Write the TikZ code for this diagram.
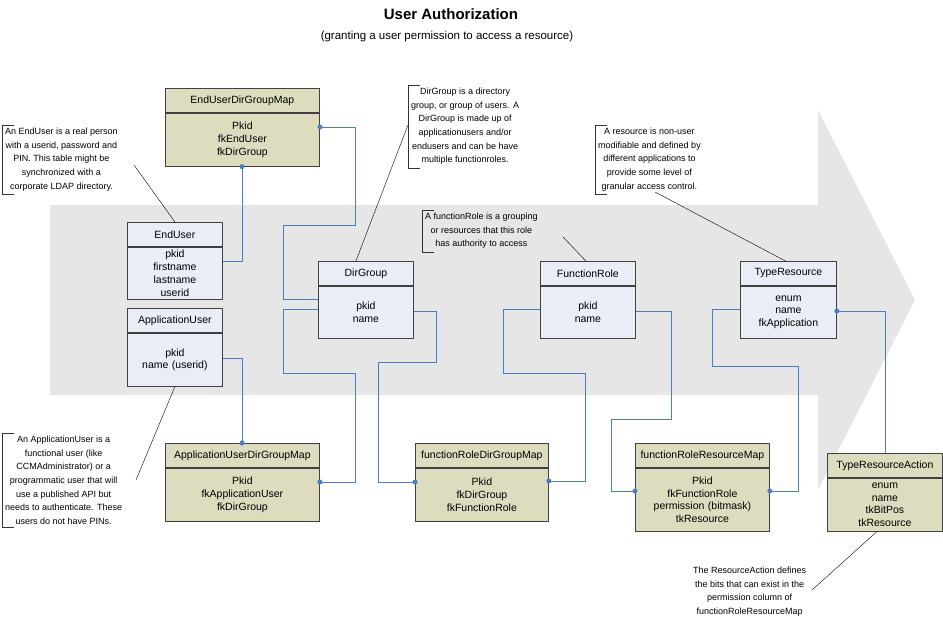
\documentclass[tikz,border=0pt]{standalone}
\usepackage{fontspec}
\setmainfont{Liberation Sans}
\usetikzlibrary{positioning}
\definecolor{band}{HTML}{E6E6E6}
\definecolor{tblblue}{HTML}{E8EDF6}
\definecolor{tbltan}{HTML}{DDDCBF}
\definecolor{link}{HTML}{4A7CC8}
\begin{document}
\begin{tikzpicture}[x=1pt, y=-1pt, font=\fontsize{9}{13.6}\selectfont]
        \tikzstyle{head}=[draw=black!75, thick, anchor=north west, minimum height=24pt, inner sep=1pt, align=center, font=\fontsize{10.5}{12.8}\selectfont]
        \tikzstyle{body}=[draw=black!75, thick, anchor=north, inner sep=1pt, align=center, font=\fontsize{10.5}{12.8}\selectfont]
        \tikzstyle{note}=[inner sep=3pt, align=center]
        \tikzstyle{fk}=[draw=link, line width=1pt]
        \tikzstyle{dot}=[circle, fill=link, inner sep=0pt, minimum size=5pt]
        \useasboundingbox (0,0) rectangle (943,622);

        % grosser grauer Pfeil im Hintergrund
        \fill[band] (50,205) -- (818,205) -- (818,110) -- (915,300) -- (818,490) -- (818,395) -- (50,395) -- cycle;

        % Titel
        \node (title) at (451,14) {\fontsize{15}{18}\selectfont\bfseries User Authorization};
        \node (subtitle) at (447,37) {\fontsize{11.5}{13}\selectfont(granting a user permission to access a resource)};

        % Tabellen: Kopf + Rumpf
        \node[head, fill=tbltan, text width=152pt] (eudgm) at (165,88) {EndUserDirGroupMap};
        \node[body, fill=tbltan, text width=152pt, minimum height=53pt] (eudgmb) at (eudgm.south) {Pkid\\fkEndUser\\fkDirGroup};

        \node[head, fill=tblblue, text width=93pt] (enduser) at (127,222) {EndUser};
        \node[body, fill=tblblue, text width=93pt, minimum height=52pt] (enduserb) at (enduser.south) {pkid\\firstname\\lastname\\userid};

        \node[head, fill=tblblue, text width=93pt] (appuser) at (127,308) {ApplicationUser};
        \node[body, fill=tblblue, text width=93pt, minimum height=53pt] (appuserb) at (appuser.south) {pkid\\name (userid)};

        \node[head, fill=tbltan, text width=152pt] (audgm) at (165,443) {ApplicationUserDirGroupMap};
        \node[body, fill=tbltan, text width=152pt, minimum height=53pt] (audgmb) at (audgm.south) {Pkid\\fkApplicationUser\\fkDirGroup};

        \node[head, fill=tblblue, text width=93pt] (dirgroup) at (318,261) {DirGroup};
        \node[body, fill=tblblue, text width=93pt, minimum height=52pt] (dirgroupb) at (dirgroup.south) {pkid\\name};

        \node[head, fill=tbltan, text width=131pt] (frdgm) at (415,443) {functionRoleDirGroupMap};
        \node[body, fill=tbltan, text width=131pt, minimum height=53pt] (frdgmb) at (frdgm.south) {Pkid\\fkDirGroup\\fkFunctionRole};

        \node[head, fill=tblblue, text width=93pt] (funcrole) at (540,261) {FunctionRole};
        \node[body, fill=tblblue, text width=93pt, minimum height=52pt] (funcroleb) at (funcrole.south) {pkid\\name};

        \node[head, fill=tbltan, text width=132pt] (frrm) at (635,443) {functionRoleResourceMap};
        \node[body, fill=tbltan, text width=132pt, minimum height=63pt] (frrmb) at (frrm.south) {Pkid\\fkFunctionRole\\permission (bitmask)\\tkResource};

        \node[head, fill=tblblue, text width=94pt] (typeres) at (740,261) {TypeResource};
        \node[body, fill=tblblue, text width=94pt, minimum height=52pt] (typeresb) at (typeres.south) {enum\\name\\fkApplication};

        \node[head, fill=tbltan, text width=113pt] (tra) at (827,453) {TypeResourceAction};
        \node[body, fill=tbltan, text width=113pt, minimum height=53pt] (trab) at (tra.south) {enum\\name\\tkBitPos\\tkResource};

        % Notizen
        \node[note, anchor=north west] (neu) at (2,125) {An EndUser is a real person\\with a userid, password and\\PIN. This table might be\\synchronized with a\\corporate LDAP directory.};
        \node[note, anchor=north west] (nau) at (2,433) {An ApplicationUser is a\\functional user (like\\CCMAdministrator) or a\\programmatic user that will\\use a published API but\\needs to authenticate. These\\users do not have PINs.};
        \node[note, anchor=north west] (ndg) at (408,85) {DirGroup is a directory\\group, or group of users. A\\DirGroup is made up of\\applicationusers and/or\\endusers and can be have\\multiple functionroles.};
        \node[note, anchor=north west] (nfr) at (422,210) {A functionRole is a grouping\\or resources that this role\\has authority to access};
        \node[note, anchor=north west] (nres) at (595,125) {A resource is non-user\\modifiable and defined by\\different applications to\\provide some level of\\granular access control.};
        \node[note, anchor=north west] (ntra) at (690,564) {The ResourceAction defines\\the bits that can exist in the\\permission column of\\functionRoleResourceMap};

        % Klammern der Notizen
        \foreach \n in {neu, nau, ndg, nfr, nres} {
            \draw[black!80] ([xshift=12pt]\n.north west) -| (\n.south west) -- ++(12pt,0);
        }

        % Notiz-Linien
        \coordinate (c1) at (134,165);
        \coordinate (c2) at (136,480);
        \coordinate (c3) at (408,125);
        \coordinate (c4) at (563,237);
        \coordinate (c5) at (655,192);
        \coordinate (c6) at (812,590);
        \draw (c1) -- (enduser.north);
        \draw (c2) -- (appuserb.south);
        \draw (c3) -- ([xshift=-10pt]dirgroup.north);
        \draw (c4) -- ([xshift=-2pt]funcrole.north);
        \draw (c5) -- ([xshift=-3pt]typeres.north);
        \draw (c6) -- ([xshift=-8pt]trab.south);

        % Fremdschluessel-Verbindungen
        \coordinate (p1) at (320,127);
        \draw[fk] (p1) -| (355,225) -| (283,299) -- (dirgroupb.west |- 0,299);
        \node[dot] at (p1) {};
        \draw[fk] (eudgmb.south -| 242,0) |- (enduserb.east |- 0,261);
        \node[dot] at (eudgmb.south -| 242,0) {};
        \draw[fk] (appuserb.east |- 0,358) -| (audgm.north -| 242,0);
        \node[dot] at (audgm.north -| 242,0) {};
        \draw[fk] (dirgroupb.west |- 0,309) -| (283,373) -| (355,482) -- (audgmb.east |- 0,482);
        \node[dot] at (audgmb.east |- 0,482) {};
        \draw[fk] (dirgroupb.east |- 0,311) -| (436,362) -| (378,482) -- (frdgmb.west |- 0,482);
        \node[dot] at (frdgmb.west |- 0,482) {};
        \draw[fk] (funcroleb.west |- 0,309) -| (503,373) -| (585,481) -- (frdgmb.east |- 0,481);
        \node[dot] at (frdgmb.east |- 0,481) {};
        \draw[fk] (funcroleb.east |- 0,311) -| (671,419) -| (611,491) -- (frrmb.west |- 0,491);
        \node[dot] at (frrmb.west |- 0,491) {};
        \draw[fk] (typeresb.west |- 0,309) -| (712,366) -| (798,491) -- (frrmb.east |- 0,491);
        \node[dot] at (frrmb.east |- 0,491) {};
        \draw[fk] (typeresb.east |- 0,311) -| (tra.north -| 885,0);
        \node[dot] at (typeresb.east |- 0,311) {};
\end{tikzpicture}
\end{document}
